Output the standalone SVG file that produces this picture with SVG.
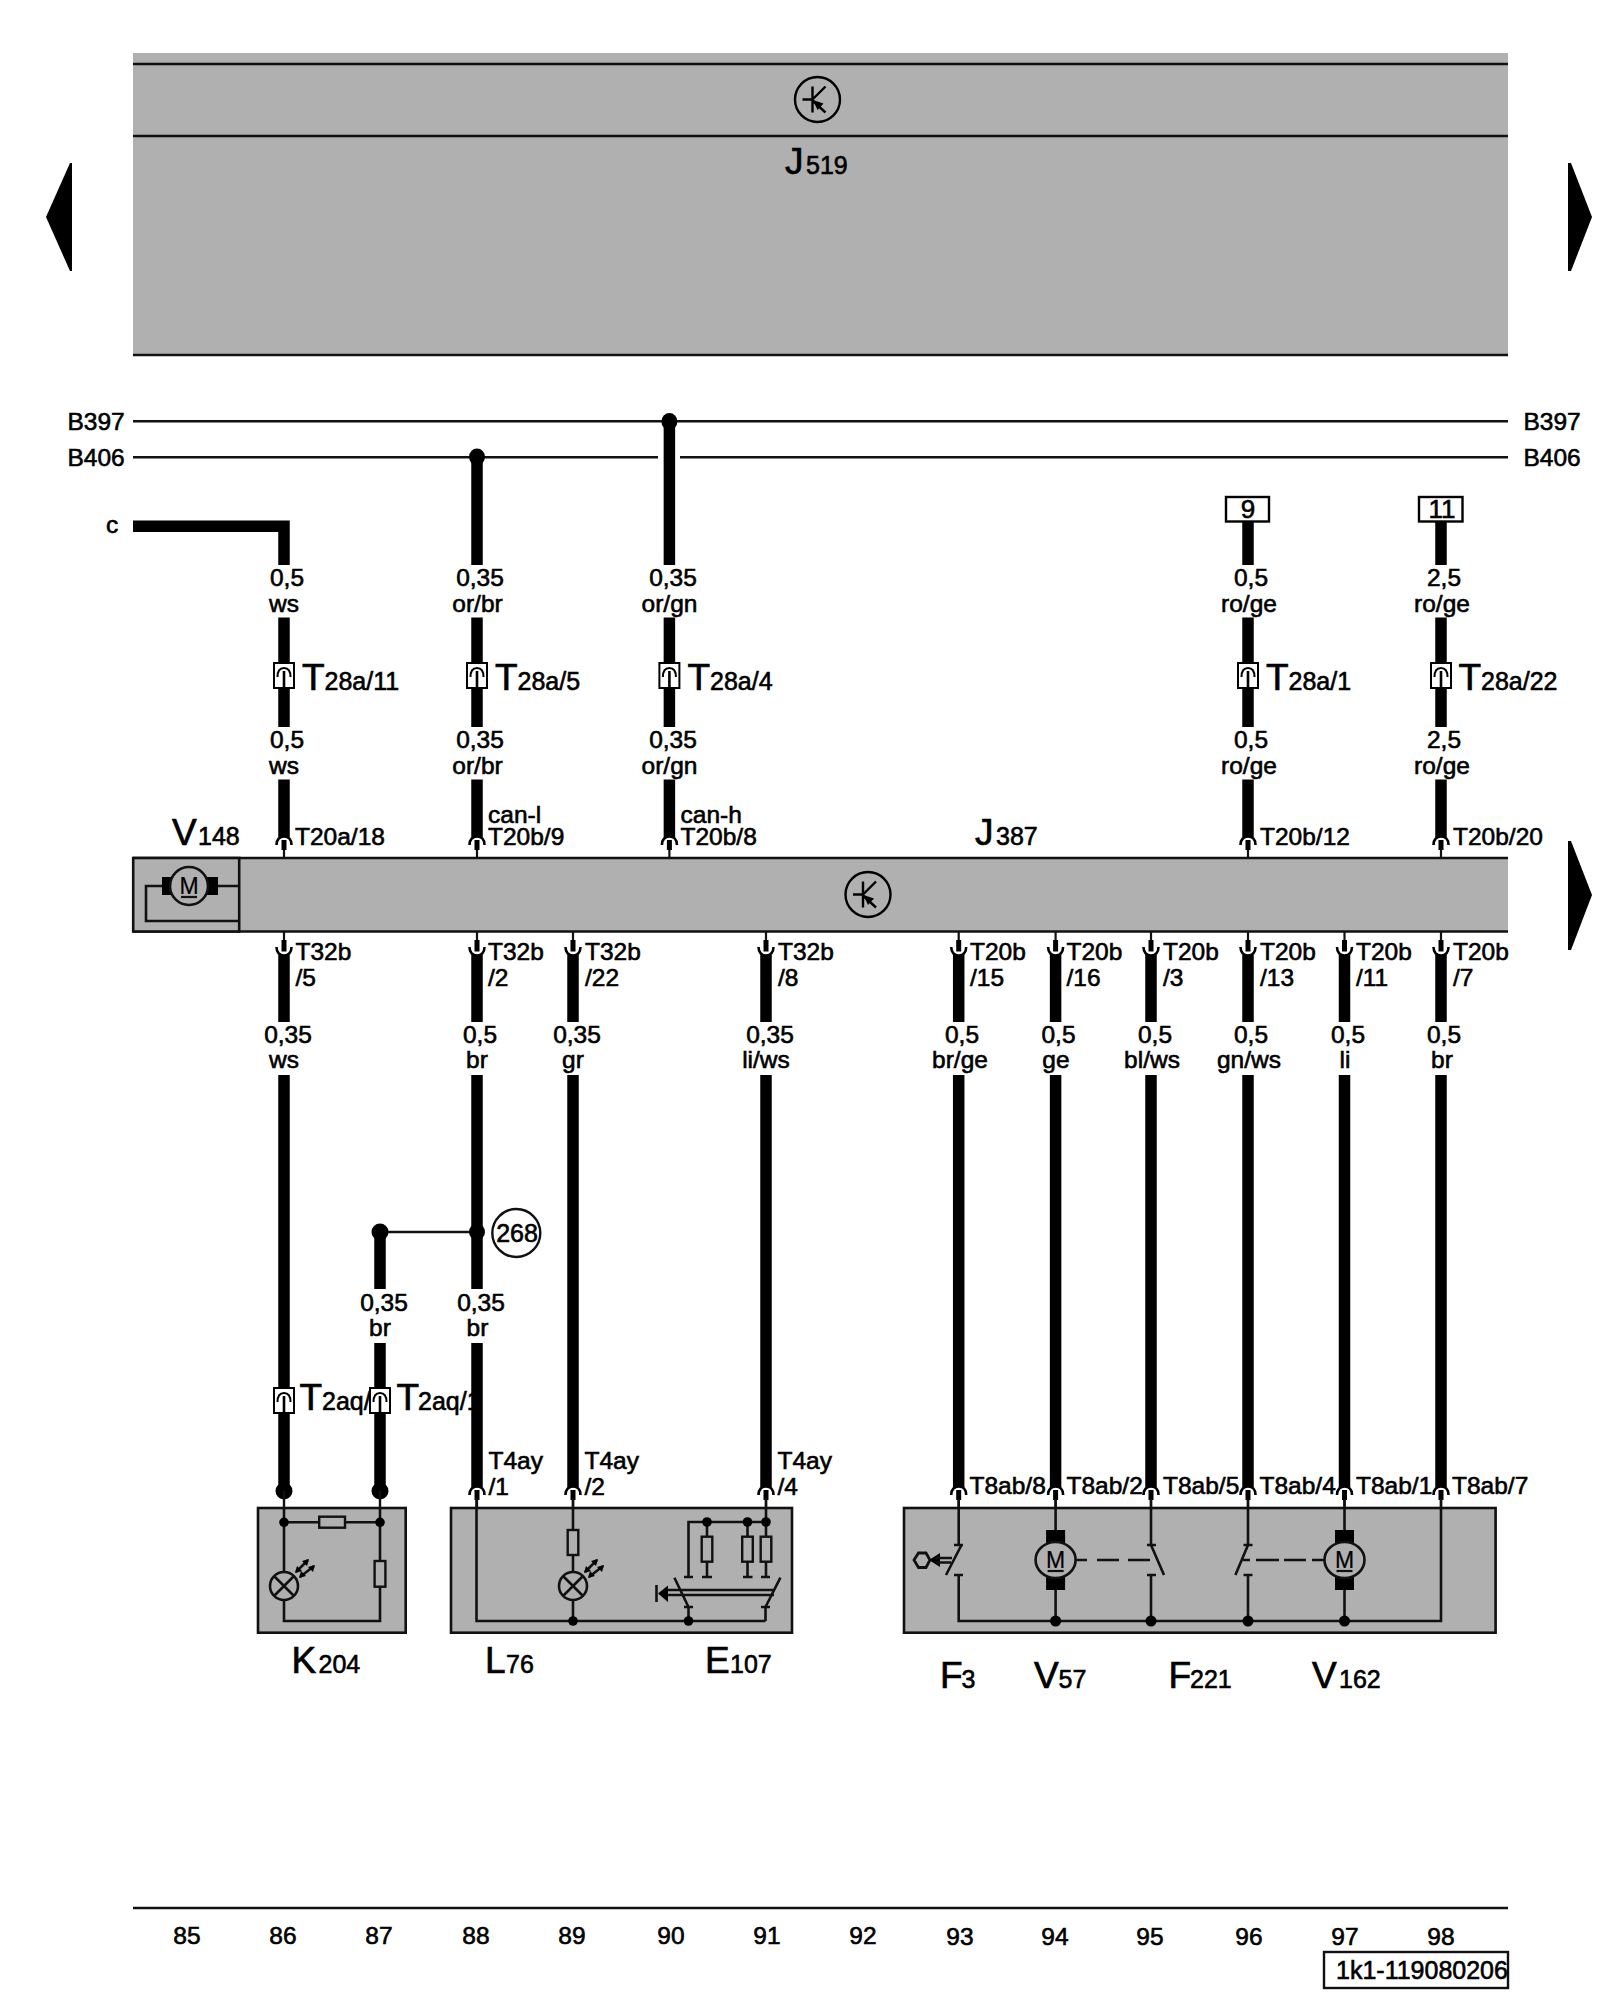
<svg xmlns="http://www.w3.org/2000/svg" width="1600" height="2000" viewBox="0 0 1600 2000">
<style>
text{font-family:"Liberation Sans",Arial,sans-serif;font-size:24.5px;fill:#000;stroke:#000;stroke-width:.6}
.m{text-anchor:middle}
.b{font-size:37px;stroke-width:.7}
.s{font-size:25px;stroke-width:.6}
.box{fill:#b0b0b0;stroke:#111;stroke-width:2.6}
.ln{fill:none;stroke:#111;stroke-width:2.6}
.res{fill:#b0b0b0;stroke:#111;stroke-width:2.4}
.wire{fill:none;stroke:#000;stroke-width:11.5}
.dot{fill:#000}
.gear{fill:none;stroke:#000;stroke-width:2.4}
.mot{fill:#b0b0b0;stroke:#111;stroke-width:2.6}
</style>
<defs>
<g id="termUp"><path d="M-7.5,9C-7.5,3 -4,0.5 0,0.5C4,0.5 7.5,3 7.5,9" fill="none" stroke="#000" stroke-width="2.6"/><rect x="-2.5" y="4" width="5" height="10" fill="#000"/><path d="M0,14V22" stroke="#111" stroke-width="2.2"/></g>
<g id="termDn"><path d="M-7.5,7C-7.5,13 -4,15.5 0,15.5C4,15.5 7.5,13 7.5,7" fill="none" stroke="#000" stroke-width="2.6"/><rect x="-2.5" y="0" width="5" height="11.5" fill="#000"/><path d="M0,0V-9" stroke="#111" stroke-width="2.2"/></g>
<g id="plug"><rect x="-10" y="0" width="20" height="25" fill="#fff" stroke="#000" stroke-width="2"/><path d="M-6.5,14C-6.5,8 -4,5 0,5C4,5 6.5,8 6.5,14" fill="none" stroke="#000" stroke-width="2"/><path d="M0,8V25" stroke="#000" stroke-width="2.6"/></g>
<g id="gear"><circle cx="0" cy="0" r="22.5" class="gear"/><path d="M-15,0H-5M-5,-13V13M-5,0L8,-13M-5,1L8,13" class="gear"/><path d="M-4.5,0.5L6,4L0,10.5Z" fill="#000"/></g>
<g id="lamp"><circle cx="0" cy="0" r="14" class="mot"/><path d="M-10,-10L10,10M-10,10L10,-10" class="ln"/><path d="M12,-14L24,-26M16,-9L30,-20" class="ln"/><path d="M25,-27l-7,2 5,5zM31,-21l-7,2 5,5z" fill="#000"/><path d="M11,-13l7,-2 -5,-5zM15,-8l7,-2 -5,-5z" fill="#000"/></g>
<g id="motor"><rect x="-9.5" y="-30" width="19" height="60" fill="#000"/><ellipse cx="0" cy="0" rx="20" ry="18" class="mot"/><text x="0" y="8" class="m" style="font-size:23px;stroke-width:.2">M</text><path d="M-8,11H8" stroke="#111" stroke-width="2.2"/></g>
<g id="resV"><rect x="-5.3" y="0" width="10.6" height="25" class="res"/></g>
<clipPath id="edge"><rect x="1300" y="1940" width="209" height="60"/></clipPath>
</defs>

<rect width="1600" height="2000" fill="#fff"/>

<g id="J519">
<rect x="133" y="53" width="1375" height="302" fill="#b0b0b0"/>
<path d="M133,64H1508M133,136H1508M133,355H1508" stroke="#111" stroke-width="2.4"/>
<use href="#gear" x="817.5" y="99.5"/>
<text x="785" y="174" class="b">J</text><text x="806" y="174" class="s">519</text>
</g>

<g id="arrows">
<path d="M46,217L70,163H72V271H70Z" fill="#000"/>
<path d="M1568,163H1571L1592,217L1571,271H1568Z" fill="#000"/>
<path d="M1568,841H1571L1592,895L1571,950H1568Z" fill="#000"/>
</g>

<g id="J387">
<rect x="133" y="858" width="1375" height="73.5" fill="#b0b0b0"/>
<path d="M133,858H1508M133,931.5H1508" stroke="#111" stroke-width="2.4"/>
<use href="#gear" x="868" y="894.5"/>
<text x="975" y="844.5" class="b">J</text><text x="996" y="844.5" class="s">387</text>
</g>

<g id="V148">
<rect x="133.2" y="858" width="106" height="73.5" class="box"/>
<path d="M217,886H239M162,886H146V921H239" class="ln"/>
<rect x="162" y="877" width="11" height="18" fill="#000"/><rect x="207" y="877" width="11" height="18" fill="#000"/>
<ellipse cx="189" cy="886" rx="19" ry="19" class="mot"/>
<text x="189" y="893.5" class="m" style="font-size:23px;stroke-width:.2">M</text><path d="M181,897H197" stroke="#111" stroke-width="2.2"/>
<text x="172" y="844.5" class="b">V</text><text x="198" y="844.5" class="s">148</text>
</g>

<g id="buses">
<path d="M133,421.3H1508M133,457.3H658M680,457.3H1508" stroke="#111" stroke-width="2.4"/>
<text x="67.5" y="429.5">B397</text><text x="67.5" y="465.5">B406</text>
<text x="1523.5" y="429.5">B397</text><text x="1523.5" y="465.5">B406</text>
<text x="106" y="532.5">c</text>
</g>

<g id="T2aq-labels">
<text x="299.5" y="1409.5" class="b">T</text><text x="322" y="1409.5" class="s">2aq/</text>
<text x="396.5" y="1409.5" class="b">T</text><text x="418" y="1409.5" class="s">2aq/1</text>
</g>

<g id="connectors">
<path class="wire" d="M133,526.3H284V565M284,617.5V727M284,779.5V837M284,955V1022M284,1075V1490"/>
<path class="wire" d="M477,457V565M477,617.5V727M477,779.5V837M477,955V1022M477,1075V1289M477,1343V1487"/>
<path class="wire" d="M669.4,421.5V565M669.4,617.5V727M669.4,779.5V837"/>
<path class="wire" d="M1248,521V565M1248,617.5V727M1248,779.5V837M1441,521V565M1441,617.5V727M1441,779.5V837"/>
<path class="wire" d="M573,955V1022M573,1075V1487M766,955V1022M766,1075V1487"/>
<path class="wire" d="M958.7,955V1022M958.7,1075V1487M1055.6,955V1022M1055.6,1075V1487M1151,955V1022M1151,1075V1487"/>
<path class="wire" d="M1248,955V1022M1248,1075V1487M1344.5,955V1022M1344.5,1075V1487M1441,955V1022M1441,1075V1487"/>
<path class="wire" d="M380,1232V1289M380,1343V1491"/>
<path d="M380,1232H477" stroke="#111" stroke-width="2.4"/>
<ellipse class="dot" cx="669.4" cy="421.5" rx="8" ry="8.5"/><ellipse class="dot" cx="477" cy="457" rx="8" ry="8.5"/>
<circle class="dot" cx="380" cy="1232" r="8.5"/><circle class="dot" cx="477" cy="1232" r="8"/>
<circle class="dot" cx="284" cy="1491" r="8.5"/><circle class="dot" cx="380" cy="1491" r="8.5"/>
<path d="M284,1491V1508M380,1491V1508" stroke="#111" stroke-width="2.4"/>
<use href="#termUp" x="284" y="836"/><use href="#termUp" x="477" y="836"/><use href="#termUp" x="669.4" y="836"/><use href="#termUp" x="1248" y="836"/><use href="#termUp" x="1441" y="836"/>
<use href="#termDn" x="284" y="940"/><use href="#termDn" x="477" y="940"/><use href="#termDn" x="573" y="940"/><use href="#termDn" x="766" y="940"/><use href="#termDn" x="958.7" y="940"/><use href="#termDn" x="1055.6" y="940"/><use href="#termDn" x="1151" y="940"/><use href="#termDn" x="1248" y="940"/><use href="#termDn" x="1344.5" y="940"/><use href="#termDn" x="1441" y="940"/>
<use href="#termUp" x="477" y="1486"/><use href="#termUp" x="573" y="1486"/><use href="#termUp" x="766" y="1486"/><use href="#termUp" x="958.7" y="1486"/><use href="#termUp" x="1055.6" y="1486"/><use href="#termUp" x="1151" y="1486"/><use href="#termUp" x="1248" y="1486"/><use href="#termUp" x="1344.5" y="1486"/><use href="#termUp" x="1441" y="1486"/>
<use href="#plug" x="284" y="663"/><use href="#plug" x="477" y="663"/><use href="#plug" x="669.4" y="663"/><use href="#plug" x="1248" y="663"/><use href="#plug" x="1441" y="663"/>
<use href="#plug" x="284" y="1388"/><use href="#plug" x="380" y="1388"/>
</g>

<g id="wire-labels">
<text x="287" y="586" class="m">0,5</text><text x="284" y="612" class="m">ws</text><text x="287" y="748" class="m">0,5</text><text x="284" y="774" class="m">ws</text>
<text x="480" y="586" class="m">0,35</text><text x="477.5" y="612" class="m">or/br</text><text x="480" y="748" class="m">0,35</text><text x="477.5" y="774" class="m">or/br</text>
<text x="673" y="586" class="m">0,35</text><text x="669.5" y="612" class="m">or/gn</text><text x="673" y="748" class="m">0,35</text><text x="669.5" y="774" class="m">or/gn</text>
<text x="1251" y="586" class="m">0,5</text><text x="1249" y="612" class="m">ro/ge</text><text x="1251" y="748" class="m">0,5</text><text x="1249" y="774" class="m">ro/ge</text>
<text x="1444" y="586" class="m">2,5</text><text x="1442" y="612" class="m">ro/ge</text><text x="1444" y="748" class="m">2,5</text><text x="1442" y="774" class="m">ro/ge</text>
<text x="302" y="689.5" class="b">T</text><text x="324.5" y="689.5" class="s">28a/11</text>
<text x="495" y="689.5" class="b">T</text><text x="517.5" y="689.5" class="s">28a/5</text>
<text x="687.5" y="689.5" class="b">T</text><text x="710" y="689.5" class="s">28a/4</text>
<text x="1266" y="689.5" class="b">T</text><text x="1288.5" y="689.5" class="s">28a/1</text>
<text x="1458.5" y="689.5" class="b">T</text><text x="1481" y="689.5" class="s">28a/22</text>
<text x="295" y="844.5">T20a/18</text>
<text x="488"><tspan x="488" y="822.6">can-l</tspan><tspan x="488" y="844.5">T20b/9</tspan></text>
<text x="680.5"><tspan x="680.5" y="822.6">can-h</tspan><tspan x="680.5" y="844.5">T20b/8</tspan></text>
<text x="1260" y="844.5">T20b/12</text><text x="1453" y="844.5">T20b/20</text>
<text x="295.5" y="960">T32b</text><text x="295.5" y="986">/5</text>
<text x="488" y="960">T32b</text><text x="488" y="986">/2</text>
<text x="585" y="960">T32b</text><text x="585" y="986">/22</text>
<text x="778" y="960">T32b</text><text x="778" y="986">/8</text>
<text x="970" y="960">T20b</text><text x="970" y="986">/15</text>
<text x="1066.5" y="960">T20b</text><text x="1066.5" y="986">/16</text>
<text x="1163" y="960">T20b</text><text x="1163" y="986">/3</text>
<text x="1260" y="960">T20b</text><text x="1260" y="986">/13</text>
<text x="1356" y="960">T20b</text><text x="1356" y="986">/11</text>
<text x="1453" y="960">T20b</text><text x="1453" y="986">/7</text>
<text x="288" y="1042.7" class="m">0,35</text><text x="284" y="1068" class="m">ws</text>
<text x="480" y="1042.7" class="m">0,5</text><text x="477" y="1068" class="m">br</text>
<text x="577" y="1042.7" class="m">0,35</text><text x="573" y="1068" class="m">gr</text>
<text x="770" y="1042.7" class="m">0,35</text><text x="766" y="1068" class="m">li/ws</text>
<text x="962" y="1042.7" class="m">0,5</text><text x="960" y="1068" class="m">br/ge</text>
<text x="1058.5" y="1042.7" class="m">0,5</text><text x="1056" y="1068" class="m">ge</text>
<text x="1155" y="1042.7" class="m">0,5</text><text x="1152" y="1068" class="m">bl/ws</text>
<text x="1251" y="1042.7" class="m">0,5</text><text x="1249" y="1068" class="m">gn/ws</text>
<text x="1348" y="1042.7" class="m">0,5</text><text x="1345" y="1068" class="m">li</text>
<text x="1444" y="1042.7" class="m">0,5</text><text x="1442" y="1068" class="m">br</text>
<text x="384" y="1310.7" class="m">0,35</text><text x="380" y="1336" class="m">br</text>
<text x="481" y="1310.7" class="m">0,35</text><text x="477.5" y="1336" class="m">br</text>
<text x="488.5" y="1468.5">T4ay</text><text x="488.5" y="1494.5">/1</text>
<text x="584.5" y="1468.5">T4ay</text><text x="584.5" y="1494.5">/2</text>
<text x="777.5" y="1468.5">T4ay</text><text x="777.5" y="1494.5">/4</text>
<text x="969.5" y="1494">T8ab/8</text><text x="1066.5" y="1494">T8ab/2</text><text x="1163" y="1494">T8ab/5</text><text x="1259.5" y="1494">T8ab/4</text><text x="1356" y="1494">T8ab/1</text><text x="1452" y="1494">T8ab/7</text>
</g>

<g id="ref-9"><rect x="1226" y="497" width="43" height="24.5" fill="#fff" stroke="#000" stroke-width="2.4"/><text x="1248" y="518" class="m" style="font-size:26px">9</text></g>
<g id="ref-11"><rect x="1419" y="497" width="43.5" height="24.5" fill="#fff" stroke="#000" stroke-width="2.4"/><text x="1442" y="518" class="m" style="font-size:26px">11</text></g>
<g id="ref-268"><circle cx="516.3" cy="1233" r="24" fill="#fff" stroke="#111" stroke-width="2.4"/><text x="517" y="1241.5" class="m" style="font-size:25px">268</text></g>

<g id="K204">
<rect x="258" y="1508" width="147.7" height="124.7" class="box"/>
<path d="M284,1508V1621H380V1508M284,1522.3H380" class="ln"/>
<circle class="dot" cx="284" cy="1522.3" r="4.8"/><circle class="dot" cx="380" cy="1522.3" r="4.8"/>
<rect x="319.2" y="1516.7" width="25.8" height="11" class="res"/>
<rect x="374.6" y="1561" width="10.8" height="25.7" class="res"/>
<use href="#lamp" x="284" y="1586"/>
<text x="291.5" y="1673.3" class="b">K</text><text x="318.5" y="1673.3" class="s">204</text>
</g>

<g id="L76">
<rect x="451" y="1508" width="341" height="124.7" class="box"/>
<path d="M476.5,1498V1621H765.5M573,1498V1621" class="ln"/>
<circle class="dot" cx="573" cy="1621" r="4.8"/>
<use href="#resV" x="573" y="1530"/>
<use href="#lamp" x="573" y="1586"/>
<text x="485" y="1673.3" class="b">L</text><text x="506" y="1673.3" class="s">76</text>
</g>

<g id="E107">
<path d="M766,1498V1577M688.5,1577V1522H766M707,1522V1577M747.5,1522V1577M684,1577H693M702,1577H712M743,1577H752.5M761,1577H770" class="ln"/>
<circle class="dot" cx="707" cy="1522" r="4.8"/><circle class="dot" cx="747.5" cy="1522" r="4.8"/><circle class="dot" cx="766" cy="1522" r="4.8"/>
<use href="#resV" x="707" y="1536.7"/><use href="#resV" x="747.5" y="1536.7"/><use href="#resV" x="766" y="1536.7"/>
<path d="M674.4,1577.7L688.5,1607M780.4,1577.7L765.5,1607M684,1607H693M761,1607H770M688.5,1607V1621M765.5,1607V1621M664,1590H774M664,1595H774M656.5,1585V1602" class="ln"/>
<path d="M658,1593.5L668,1585.5V1602Z" fill="#000"/>
<circle class="dot" cx="688.5" cy="1621" r="4.8"/>
<text x="705" y="1673.3" class="b">E</text><text x="730" y="1673.3" class="s">107</text>
</g>

<g id="F3-V57-F221-V162">
<rect x="904" y="1508" width="591.6" height="124.7" class="box"/>
<path d="M958.7,1499V1545M958.7,1575V1621H1441V1499M1055.6,1499V1530M1055.6,1590V1621M1151,1499V1545M1151,1575V1621M1248,1499V1545M1248,1575V1621M1344.5,1499V1530M1344.5,1590V1621" class="ln"/>
<path d="M954,1545H963M954,1575H963M1147,1545H1156M1147,1575H1156M1243.5,1545H1252.5M1243.5,1575H1252.5" class="ln"/>
<path d="M961.5,1545L946,1575M1151,1545L1164,1575M1248,1545L1235.4,1575" class="ln"/>
<path d="M1075,1560H1087M1097,1560H1119M1128,1560H1150M1243,1560H1250M1256,1560H1279M1284,1560H1306M1312,1560H1326" class="ln"/>
<path d="M914,1560L918.5,1553H926L930,1560L926,1567.5H918.5Z" fill="#b0b0b0" stroke="#111" stroke-width="2.8"/>
<path d="M929,1560L940,1553V1567Z" fill="#000"/><path d="M936,1558H952M936,1562.5H951" class="ln"/>
<use href="#motor" x="1055.6" y="1560"/><use href="#motor" x="1344.5" y="1560"/>
<circle class="dot" cx="1055.6" cy="1621" r="5.5"/><circle class="dot" cx="1151" cy="1621" r="5.5"/><circle class="dot" cx="1248" cy="1621" r="5.5"/><circle class="dot" cx="1344.5" cy="1621" r="5.5"/>
<text x="940" y="1687.5" class="b">F</text><text x="961.5" y="1687.5" class="s">3</text>
<text x="1034" y="1687.5" class="b">V</text><text x="1058.5" y="1687.5" class="s">57</text>
<text x="1168.5" y="1687.5" class="b">F</text><text x="1190" y="1687.5" class="s">221</text>
<text x="1312" y="1687.5" class="b">V</text><text x="1339" y="1687.5" class="s">162</text>
</g>

<g id="footer">
<path d="M133,1908H1508" stroke="#111" stroke-width="2.4"/>
<text x="187" y="1943.5" class="m">85</text><text x="283" y="1943.5" class="m">86</text><text x="379" y="1943.5" class="m">87</text><text x="476" y="1943.5" class="m">88</text><text x="572" y="1943.5" class="m">89</text><text x="671" y="1943.5" class="m">90</text><text x="767" y="1943.5" class="m">91</text><text x="863" y="1943.5" class="m">92</text><text x="960" y="1944.5" class="m">93</text><text x="1055" y="1944.5" class="m">94</text><text x="1150" y="1944.5" class="m">95</text><text x="1249" y="1944.5" class="m">96</text><text x="1345" y="1944.5" class="m">97</text><text x="1441" y="1944.5" class="m">98</text>
<rect x="1324" y="1952" width="184" height="36" fill="#fff" stroke="#111" stroke-width="2.4"/>
<text x="1336" y="1978.5" clip-path="url(#edge)" style="font-size:25px">1k1-119080206</text>
</g>
</svg>
